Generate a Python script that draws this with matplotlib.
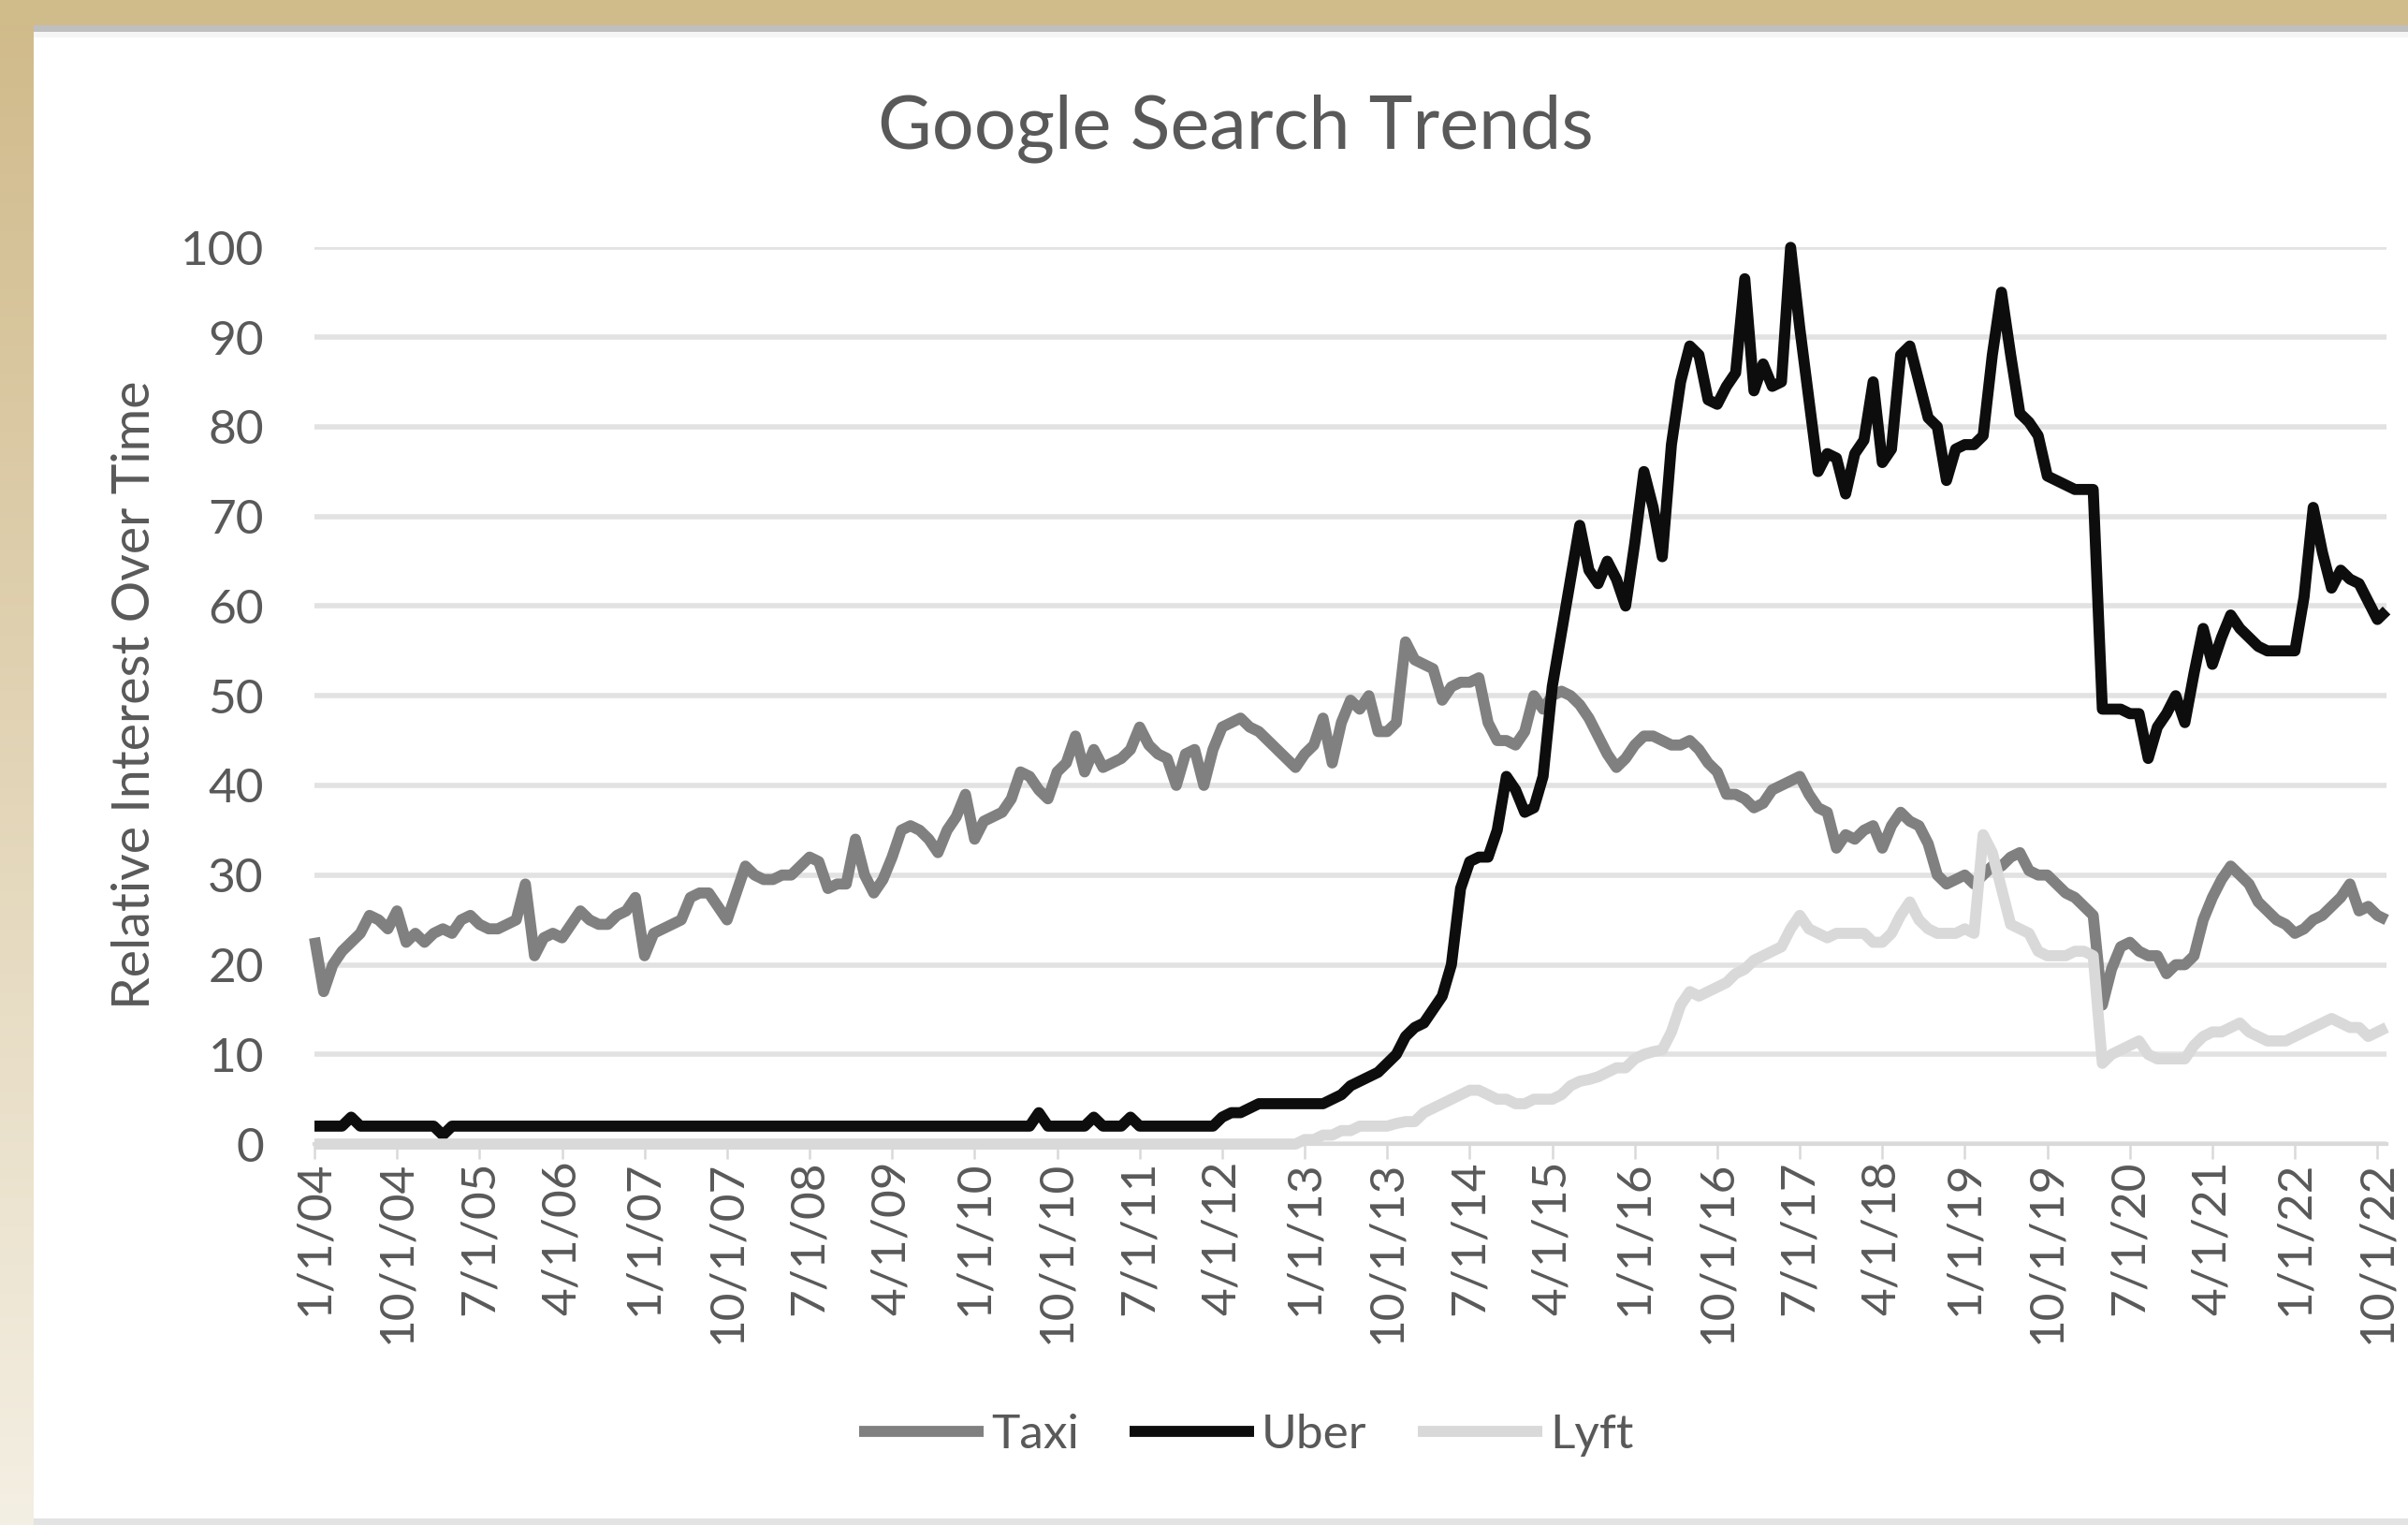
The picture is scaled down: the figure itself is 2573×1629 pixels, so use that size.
import numpy as np
import matplotlib
matplotlib.use('Agg')
import matplotlib.pyplot as plt
from matplotlib.patches import Rectangle
from matplotlib.colors import to_rgb

plt.rcParams['font.family'] = ['Lato', 'DejaVu Sans']

# Monthly values, Jan 2004 .. Nov 2022
taxi = [23, 17, 20, 21.5, 22.5, 23.5, 25.5, 25, 24, 26,
        22.5, 23.5, 22.5, 23.5, 24, 23.5, 25, 25.5, 24.5, 24,
        24, 24.5, 25, 29, 21, 23, 23.5, 23, 24.5, 26,
        25, 24.5, 24.5, 25.5, 26, 27.5, 21, 23.5, 24, 24.5,
        25, 27.5, 28, 28, 26.5, 25, 28, 31, 30, 29.5,
        29.5, 30, 30, 31, 32, 31.5, 28.5, 29, 29, 34,
        30, 28, 29.5, 32, 35, 35.5, 35, 34, 32.5, 35,
        36.5, 39, 34, 36, 36.5, 37, 38.5, 41.5, 41, 39.5,
        38.5, 41.5, 42.5, 45.5, 41.5, 44, 42, 42.5, 43, 44,
        46.5, 44.5, 43.5, 43, 40, 43.5, 44, 40, 44, 46.5,
        47, 47.5, 46.5, 46, 45, 44, 43, 42, 43.5, 44.5,
        47.5, 42.5, 47, 49.5, 48.5, 50, 46, 46, 47, 56,
        54, 53.5, 53, 49.5, 51, 51.5, 51.5, 52, 47, 45,
        45, 44.5, 46, 50, 48.5, 50, 50.5, 50, 49, 47.5,
        45.5, 43.5, 42, 43, 44.5, 45.5, 45.5, 45, 44.5, 44.5,
        45, 44, 42.5, 41.5, 39, 39, 38.5, 37.5, 38, 39.5,
        40, 40.5, 41, 39, 37.5, 37, 33, 34.5, 34, 35,
        35.5, 33, 35.5, 37, 36, 35.5, 33.5, 30, 29, 29.5,
        30, 29, 30, 31, 31, 32, 32.5, 30.5, 30, 30,
        29, 28, 27.5, 26.5, 25.5, 15.5, 19.5, 22, 22.5, 21.5,
        21, 21, 19, 20, 20, 21, 25, 27.5, 29.5, 31,
        30, 29, 27, 26, 25, 24.5, 23.5, 24, 25, 25.5,
        26.5, 27.5, 29, 26, 26.5, 25.5, 25]

uber = ([2, 2, 2, 2, 3] + [2] * 9 + [1] + [2] * 64 + [3.5] + [2] * 5 + [3]
        + [2] * 3 + [3] + [2] * 9
        + [3, 3.5, 3.5, 4, 4.5, 4.5, 4.5, 4.5, 4.5, 4.5, 4.5, 4.5,
           5, 5.5, 6.5, 7, 7.5, 8, 9, 10, 12, 13,
           13.5, 15, 16.5, 20, 28.5, 31.5, 32, 32, 35, 41,
           39.5, 37, 37.5, 41, 51, 57, 63, 69, 64, 62.5,
           65, 63, 60, 67, 75, 71, 65.5, 78, 85, 89,
           88, 83, 82.5, 84.5, 86, 96.5, 84, 87, 84.5, 85,
           100, 91, 83, 75, 77, 76.5, 72.5, 77, 78.5, 85,
           76, 77.5, 88, 89, 85, 81, 80, 74, 77.5, 78,
           78, 79, 88, 95, 88, 81.5, 80.5, 79, 74.5, 74,
           73.5, 73, 73, 73, 48.5, 48.5, 48.5, 48, 48, 43,
           46.5, 48, 50, 47, 52.5, 57.5, 53.5, 56.5, 59, 57.5,
           56.5, 55.5, 55, 55, 55, 55, 61, 71, 66, 62,
           64, 63, 62.5, 60.5, 58.5, 59.5])

lyft = ([0] * 108
        + [0.5, 0.5, 1, 1, 1.5, 1.5, 2, 2, 2, 2, 2.3, 2.5,
           2.5, 3.5, 4, 4.5, 5, 5.5, 6, 6, 5.5, 5,
           5, 4.5, 4.5, 5, 5, 5, 5.5, 6.5, 7, 7.2,
           7.5, 8, 8.5, 8.5, 9.5, 10, 10.3, 10.5, 12.5, 15.5,
           17, 16.5, 17, 17.5, 18, 19, 19.5, 20.5, 21, 21.5,
           22, 24, 25.5, 24, 23.5, 23, 23.5, 23.5, 23.5, 23.5,
           22.5, 22.5, 23.5, 25.5, 27, 25, 24, 23.5, 23.5, 23.5,
           24, 23.5, 34.5, 32.5, 28.5, 24.5, 24, 23.5, 21.5, 21,
           21, 21, 21.5, 21.5, 21, 9, 10, 10.5, 11, 11.5,
           10, 9.5, 9.5, 9.5, 9.5, 11, 12, 12.5, 12.5, 13,
           13.5, 12.5, 12, 11.5, 11.5, 11.5, 12, 12.5, 13, 13.5,
           14, 13.5, 13, 13, 12, 12.5, 13])

tick_labels = ['1/1/04', '10/1/04', '7/1/05', '4/1/06', '1/1/07', '10/1/07',
               '7/1/08', '4/1/09', '1/1/10', '10/1/10', '7/1/11', '4/1/12',
               '1/1/13', '10/1/13', '7/1/14', '4/1/15', '1/1/16', '10/1/16',
               '7/1/17', '4/1/18', '1/1/19', '10/1/19', '7/1/20', '4/1/21',
               '1/1/22', '10/1/22']
tick_step = 9

series = [('Taxi', taxi, '#808080'), ('Uber', uber, '#0d0d0d'), ('Lyft', lyft, '#d9d9d9')]

text_color = '#595959'
W, H = 2573, 1629
fig = plt.figure(figsize=(W / 100, H / 100), dpi=100)

# background: gold frame with fading left edge, white card
bg = fig.add_axes([0, 0, 1, 1], zorder=-5)
bg.set_xlim(0, W)
bg.set_ylim(H, 0)
bg.axis('off')
top_c = np.array(to_rgb('#d0ba8a'))
bot_c = np.array(to_rgb('#f4efe3'))
t = np.linspace(0, 1, 400)[:, None]
grad = (top_c * (1 - t) + bot_c * t)[:, None, :]
bg.imshow(grad, extent=(0, W, H, 0), aspect='auto', interpolation='bilinear')
bg.add_patch(Rectangle((0, 0), W, 27, color='#d0bb8b', lw=0))
bg.add_patch(Rectangle((36, 27), W - 36, H - 27, color='white', lw=0))
bg.add_patch(Rectangle((36, 27), W - 36, 7, color='#bfbfbf', lw=0))
bg.add_patch(Rectangle((36, 34), W - 36, 6, color='#f5f5f5', lw=0))
bg.add_patch(Rectangle((36, H - 7), W - 36, 7, color='#e3e3e3', lw=0))

ax = fig.add_axes([0.1306, 0.2498, 0.8605, 0.588])
ax.set_facecolor('none')
x = np.arange(len(taxi))
for name, vals, col in series:
    ax.plot(x, vals, color=col, lw=8.5, label=name, clip_on=False,
            solid_joinstyle='round', solid_capstyle='butt')

ax.set_xlim(0, len(taxi) - 1)
ax.set_ylim(0, 100)
ax.set_yticks(np.arange(0, 101, 10))
ax.yaxis.grid(True, color='#e2e2e2', lw=4)
ax.set_axisbelow(True)
ticks = np.arange(0, len(tick_labels)) * tick_step
ax.set_xticks(ticks)
ax.set_xticklabels(tick_labels, rotation=90, ha='center', va='top')
for s in ['left', 'right', 'top']:
    ax.spines[s].set_visible(False)
ax.spines['bottom'].set_color('#d9d9d9')
ax.spines['bottom'].set_linewidth(3)
ax.tick_params(axis='y', length=0, pad=39, labelsize=37, labelcolor=text_color)
ax.tick_params(axis='x', length=11.5, width=1.8, color='#d9d9d9', pad=1,
               labelsize=37, labelcolor=text_color)

fig.text(0.513, 0.916, 'Google Search Trends', ha='center', va='center',
         fontsize=57, color=text_color)
fig.text(0.056, 0.5441, 'Relative Interest Over Time', rotation=90,
         ha='center', va='center', fontsize=40, color=text_color)

fig.legend(loc='center', bbox_to_anchor=(0.5175, 0.059), ncol=3, frameon=False,
           fontsize=37, labelcolor=text_color, handlelength=2.6,
           handletextpad=0.15, columnspacing=1.05)

fig.savefig('out.png', dpi=100)
